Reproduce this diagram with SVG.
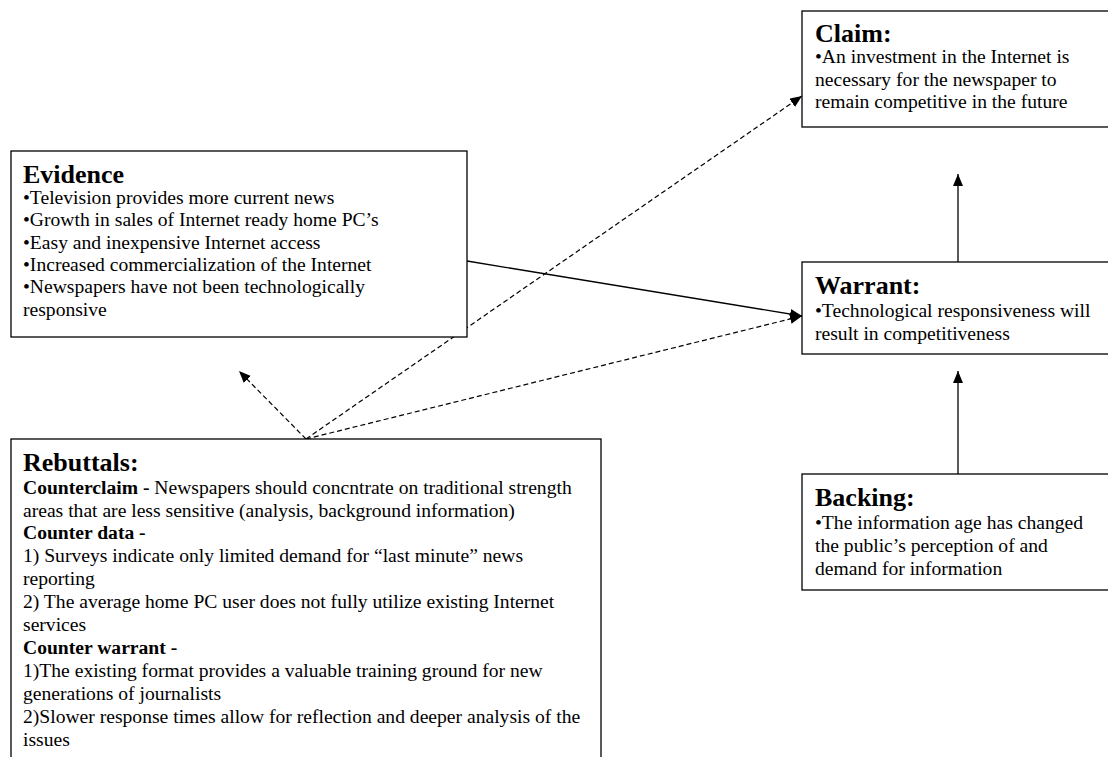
<svg xmlns="http://www.w3.org/2000/svg" width="1108" height="757" viewBox="0 0 1108 757">
  <style>
    .box { fill: #fff; stroke: #000; stroke-width: 1.3; }
    .title { font-family: "Liberation Serif", "Times New Roman", serif; font-size: 26px; font-weight: bold; fill: #000; }
    .txt { font-family: "Liberation Serif", "Times New Roman", serif; font-size: 19.6px; fill: #000; }
    .b { font-weight: bold; }
    .solid { fill: none; stroke: #000; stroke-width: 1.3; }
    .dash { fill: none; stroke: #000; stroke-width: 1.2; stroke-dasharray: 5 3; }
  </style>
  <defs>
    <marker id="arrow" markerUnits="userSpaceOnUse" markerWidth="13" markerHeight="11" refX="12" refY="5" orient="auto">
      <path d="M0,0 L12,5 L0,10 z" fill="#000"/>
    </marker>
  </defs>
  <rect width="1108" height="757" fill="#fff"/>

  <!-- connectors -->
  <g id="connectors">
    <line class="solid" x1="958" y1="262" x2="958" y2="174" marker-end="url(#arrow)"/>
    <line class="solid" x1="958" y1="474" x2="958" y2="371" marker-end="url(#arrow)"/>
    <line class="solid" x1="467" y1="261" x2="802" y2="316" marker-end="url(#arrow)"/>
    <line class="dash" x1="306" y1="439" x2="802" y2="96" marker-end="url(#arrow)"/>
    <line class="dash" x1="306" y1="439" x2="802" y2="316" marker-end="url(#arrow)"/>
    <line class="dash" x1="306" y1="439" x2="239" y2="371" marker-end="url(#arrow)"/>
  </g>

  <!-- Claim -->
  <g id="claim">
    <rect class="box" x="802" y="11" width="320" height="116"/>
    <text class="title" x="815" y="42">Claim:</text>
    <text class="txt" x="815" y="63">•An investment in the Internet is</text>
    <text class="txt" x="815" y="86">necessary for the newspaper to</text>
    <text class="txt" x="815" y="108">remain competitive in the future</text>
  </g>

  <!-- Evidence -->
  <g id="evidence">
    <rect class="box" x="11" y="151" width="456" height="186"/>
    <text class="title" x="23" y="183">Evidence</text>
    <text class="txt" x="23" y="204">•Television provides more current news</text>
    <text class="txt" x="23" y="226">•Growth in sales of Internet ready home PC’s</text>
    <text class="txt" x="23" y="249">•Easy and inexpensive Internet access</text>
    <text class="txt" x="23" y="271">•Increased commercialization of the Internet</text>
    <text class="txt" x="23" y="293">•Newspapers have not been technologically</text>
    <text class="txt" x="23" y="316">responsive</text>
  </g>

  <!-- Warrant -->
  <g id="warrant">
    <rect class="box" x="802" y="262" width="320" height="92"/>
    <text class="title" x="815" y="294">Warrant:</text>
    <text class="txt" x="815" y="317">•Technological responsiveness will</text>
    <text class="txt" x="815" y="340">result in competitiveness</text>
  </g>

  <!-- Backing -->
  <g id="backing">
    <rect class="box" x="802" y="474" width="320" height="116"/>
    <text class="title" x="815" y="506">Backing:</text>
    <text class="txt" x="815" y="529">•The information age has changed</text>
    <text class="txt" x="815" y="552">the public’s perception of and</text>
    <text class="txt" x="815" y="575">demand for information</text>
  </g>

  <!-- Rebuttals -->
  <g id="rebuttals">
    <rect class="box" x="11" y="439" width="590" height="330"/>
    <text class="title" x="23" y="471">Rebuttals:</text>
    <text class="txt" x="23" y="494"><tspan class="b">Counterclaim -</tspan> Newspapers should concntrate on traditional strength</text>
    <text class="txt" x="23" y="517">areas that are less sensitive (analysis, background information)</text>
    <text class="txt b" x="23" y="539">Counter data -</text>
    <text class="txt" x="23" y="562">1) Surveys indicate only limited demand for “last minute” news</text>
    <text class="txt" x="23" y="585">reporting</text>
    <text class="txt" x="23" y="608">2) The average home PC user does not fully utilize existing Internet</text>
    <text class="txt" x="23" y="631">services</text>
    <text class="txt b" x="23" y="654">Counter warrant -</text>
    <text class="txt" x="23" y="677">1)The existing format provides a valuable training ground for new</text>
    <text class="txt" x="23" y="700">generations of journalists</text>
    <text class="txt" x="23" y="723">2)Slower response times allow for reflection and deeper analysis of the</text>
    <text class="txt" x="23" y="746">issues</text>
  </g>
</svg>
